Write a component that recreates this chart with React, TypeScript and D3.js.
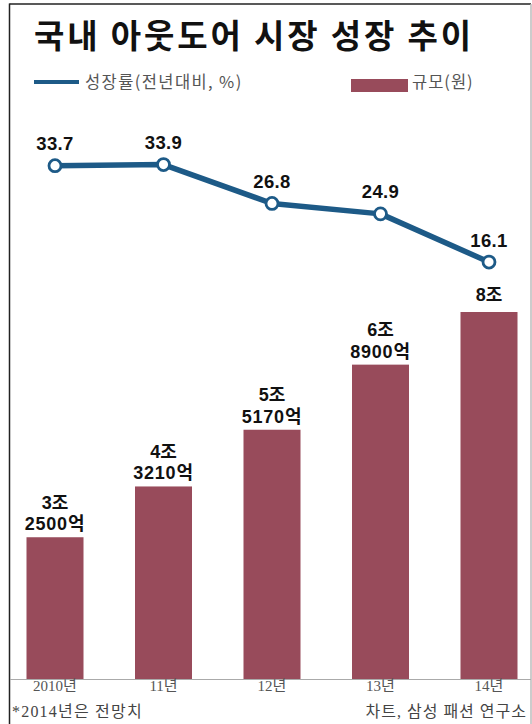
import React from 'react';
import * as d3 from 'd3';

const years = ['2010년', '11년', '12년', '13년', '14년'];
const marketSize = [3.25, 4.321, 5.517, 6.89, 8]; // 조 원
const sizeLabelTop = ['3조', '4조', '5조', '6조', '8조'];
const sizeLabelBottom = ['2500억', '3210억', '5170억', '8900억', ''];
const growthRate = [33.7, 33.9, 26.8, 24.9, 16.1];
const growthLabels = ['33.7', '33.9', '26.8', '24.9', '16.1'];

const W = 532;
const H = 724;
const BAR_COLOR = '#984b5b';
const LINE_COLOR = '#1d5a87';
const SANS = '"Liberation Sans", Arial, "Noto Sans CJK KR", sans-serif';
const KR = '"Noto Sans CJK KR", "Liberation Sans", sans-serif';
const SERIF = '"Liberation Serif", "DejaVu Serif", "Noto Sans CJK KR", serif';

export default function App() {
  const x = d3.scalePoint<string>().domain(years).range([55, 489]);
  const barW = 57;
  const baseline = 679.5;
  const yBar = d3.scaleLinear().domain([0.25, 8]).range([baseline, 312]);
  const yLine = d3.scaleLinear().domain([0, 40]).range([350.2, 131.2]);

  const linePath = d3
    .line<number>()
    .x((_, i) => x(years[i]) as number)
    .y((d) => yLine(d))(growthRate) as string;

  return (
    <svg
      width={W}
      height={H}
      viewBox={`0 0 ${W} ${H}`}
      style={{ position: 'absolute', left: 0, top: 0, background: '#fff' }}
    >
      <rect x={0} y={0} width={W} height={H} fill="#fff" />
      {/* frame */}
      <line x1={9.5} y1={4} x2={531} y2={4} stroke="#222" strokeWidth={1.5} />
      <line x1={9.5} y1={3.5} x2={9.5} y2={H} stroke="#222" strokeWidth={1.5} />
      <line x1={531} y1={4} x2={531} y2={H} stroke="#bbb" strokeWidth={1.5} />

      {/* title */}
      <text
        x={34}
        y={48}
        fontFamily={KR}
        fontWeight={700}
        fontSize={33}
        fill="#111"
        textLength={437}
        lengthAdjust="spacing"
      >
        국내 아웃도어 시장 성장 추이
      </text>

      {/* legend */}
      <line x1={34} y1={82} x2={79} y2={82} stroke={LINE_COLOR} strokeWidth={4} />
      <text x={85} y={88} fontFamily={KR} fontSize={16.5} fill="#555" letterSpacing={1.4}>
        성장률(전년대비, %)
      </text>
      <rect x={351} y={79} width={57} height={13} fill={BAR_COLOR} />
      <text x={412} y={88} fontFamily={KR} fontSize={16.5} fill="#555" letterSpacing={1}>
        규모(원)
      </text>

      {/* bars */}
      {marketSize.map((v, i) => {
        const cx = x(years[i]) as number;
        const top = yBar(v);
        const two = sizeLabelBottom[i] !== '';
        return (
          <g key={years[i]}>
            <rect x={cx - barW / 2} y={top} width={barW} height={baseline - top} fill={BAR_COLOR} />
            <text
              x={cx}
              y={two ? top - 28.5 : top - 11.5}
              textAnchor="middle"
              fontFamily={SANS}
              fontWeight={700}
              fontSize={18}
              fill="#111"
            >
              {sizeLabelTop[i]}
            </text>
            {two && (
              <text
                x={cx}
                y={top - 7}
                textAnchor="middle"
                fontFamily={SANS}
                fontWeight={700}
                fontSize={18}
                fill="#111"
                letterSpacing={0.8}
              >
                {sizeLabelBottom[i]}
              </text>
            )}
          </g>
        );
      })}

      {/* baseline */}
      <line x1={10} y1={baseline} x2={531} y2={baseline} stroke="#aaa" strokeWidth={1.2} />

      {/* x labels */}
      {years.map((yr) => (
        <text
          key={yr}
          x={x(yr) as number}
          y={691}
          textAnchor="middle"
          fontFamily={SERIF}
          fontSize={15}
          fill="#555"
        >
          {yr}
        </text>
      ))}

      {/* line series */}
      <path d={linePath} fill="none" stroke={LINE_COLOR} strokeWidth={5.5} strokeLinejoin="round" />
      {growthRate.map((v, i) => (
        <g key={'p' + i}>
          <circle
            cx={x(years[i]) as number}
            cy={yLine(v)}
            r={6}
            fill="#fff"
            stroke={LINE_COLOR}
            strokeWidth={2.8}
          />
          <text
            x={x(years[i]) as number}
            y={yLine(v) - 15.5}
            textAnchor="middle"
            fontFamily={SANS}
            fontWeight={700}
            fontSize={18.5}
            fill="#111"
            letterSpacing={0.4}
          >
            {growthLabels[i]}
          </text>
        </g>
      ))}

      {/* footnotes */}
      <text x={12} y={716.5} fontFamily={SERIF} fontSize={16} fill="#444" letterSpacing={1.2}>
        *2014년은 전망치
      </text>
      <text
        x={527}
        y={716.5}
        textAnchor="end"
        fontFamily={SERIF}
        fontSize={16}
        fill="#444"
        letterSpacing={1}
      >
        차트, 삼성 패션 연구소
      </text>
    </svg>
  );
}
